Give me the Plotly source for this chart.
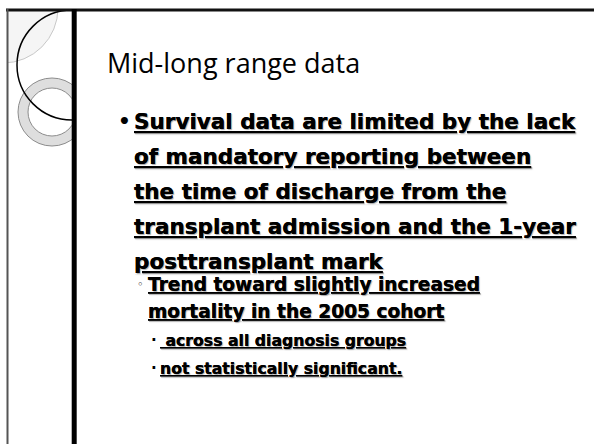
import plotly.graph_objects as go

W, H = 594, 444

title_text = "Mid-long range data"
level1_lines = [
    "Survival data are limited by the lack",
    "of mandatory reporting between",
    "the time of discharge from the",
    "transplant admission and the 1-year",
    "posttransplant mark",
]
level2_lines = [
    "Trend toward slightly increased",
    "mortality in the 2005 cohort",
]
level3_lines = [
    "\u00a0across all diagnosis groups",
    "not statistically significant.",
]

TITLE_FONT = "Gill Sans MT, Gill Sans, Open Sans, sans-serif"
FONT = "Gill Sans MT, Gill Sans, DejaVu Sans, sans-serif"
SHADOW = "1px 1px 1px rgba(0,0,0,0.18)"

fig = go.Figure()

shapes = []
# faint shaded quarter circle top-left
shapes.append(dict(type="circle", x0=3 - 55, x1=3 + 55, y0=8 - 55, y1=8 + 55,
                   fillcolor="#f5f5f5", line=dict(color="#c8c8c8", width=1)))
# grey ring
shapes.append(dict(type="circle", x0=52 - 34, x1=52 + 34, y0=112 - 34, y1=112 + 34,
                   fillcolor="#dedede", line=dict(color="#8c8c8c", width=1)))
shapes.append(dict(type="circle", x0=52 - 24, x1=52 + 24, y0=112 - 24, y1=112 + 24,
                   fillcolor="white", line=dict(color="#8c8c8c", width=1)))
# black circle
shapes.append(dict(type="circle", x0=72 - 55, x1=72 + 55, y0=65 - 55, y1=65 + 55,
                   line=dict(color="black", width=1.5)))
# masks to clip the decorations
for x0, x1, y0, y1 in [(0, W, -60, 9), (-60, 7, 0, H), (75, 132, 9, 160)]:
    shapes.append(dict(type="rect", x0=x0, x1=x1, y0=y0, y1=y1,
                       fillcolor="white", line=dict(width=0)))
# frame lines
shapes.append(dict(type="line", x0=6, x1=W, y0=10, y1=10, line=dict(color="#111", width=3)))
shapes.append(dict(type="line", x0=7.5, x1=7.5, y0=9, y1=H, line=dict(color="#555", width=2)))
shapes.append(dict(type="line", x0=74.2, x1=74.2, y0=9, y1=H, line=dict(color="black", width=5)))

ann = []
ann.append(dict(x=105, y=62, text=title_text, xanchor="left", yanchor="middle",
                font=dict(family=TITLE_FONT, size=27, color="black")))

y1 = 121
for i, line in enumerate(level1_lines):
    ann.append(dict(x=132, y=y1 + 35 * i, text=line, xanchor="left", yanchor="middle",
                    font=dict(family=FONT, size=21.5, color="black", weight="bold",
                              lineposition="under", shadow=SHADOW)))
ann.append(dict(x=116, y=y1, text="•", xanchor="left", yanchor="middle",
                font=dict(family=FONT, size=20, color="black", weight="bold")))

y2 = 284
for i, line in enumerate(level2_lines):
    ann.append(dict(x=146, y=y2 + 27 * i, text=line, xanchor="left", yanchor="middle",
                    font=dict(family=FONT, size=18.6, color="black", weight="bold",
                              lineposition="under", shadow=SHADOW)))
ann.append(dict(x=135, y=y2, text="◦", xanchor="left", yanchor="middle",
                font=dict(family=FONT, size=11, color="black")))

y3 = 340
for i, line in enumerate(level3_lines):
    ann.append(dict(x=158, y=y3 + 28 * i, text=line, xanchor="left", yanchor="middle",
                    font=dict(family=FONT, size=15.7, color="black", weight="bold",
                              lineposition="under", shadow=SHADOW)))
    ann.append(dict(x=149, y=y3 + 28 * i, text="·", xanchor="left", yanchor="middle",
                    font=dict(family=FONT, size=15, color="black", weight="bold")))

for a in ann:
    a.update(xref="x", yref="y", showarrow=False)

fig.update_layout(
    width=W, height=H,
    margin=dict(l=0, r=0, t=0, b=0),
    paper_bgcolor="white", plot_bgcolor="white",
    xaxis=dict(range=[0, W], visible=False, fixedrange=True),
    yaxis=dict(range=[H, 0], visible=False, fixedrange=True),
    shapes=shapes, annotations=ann, showlegend=False,
)

fig.write_html("out.html", config={"displayModeBar": False},
               post_script="document.body.style.margin='0';")
